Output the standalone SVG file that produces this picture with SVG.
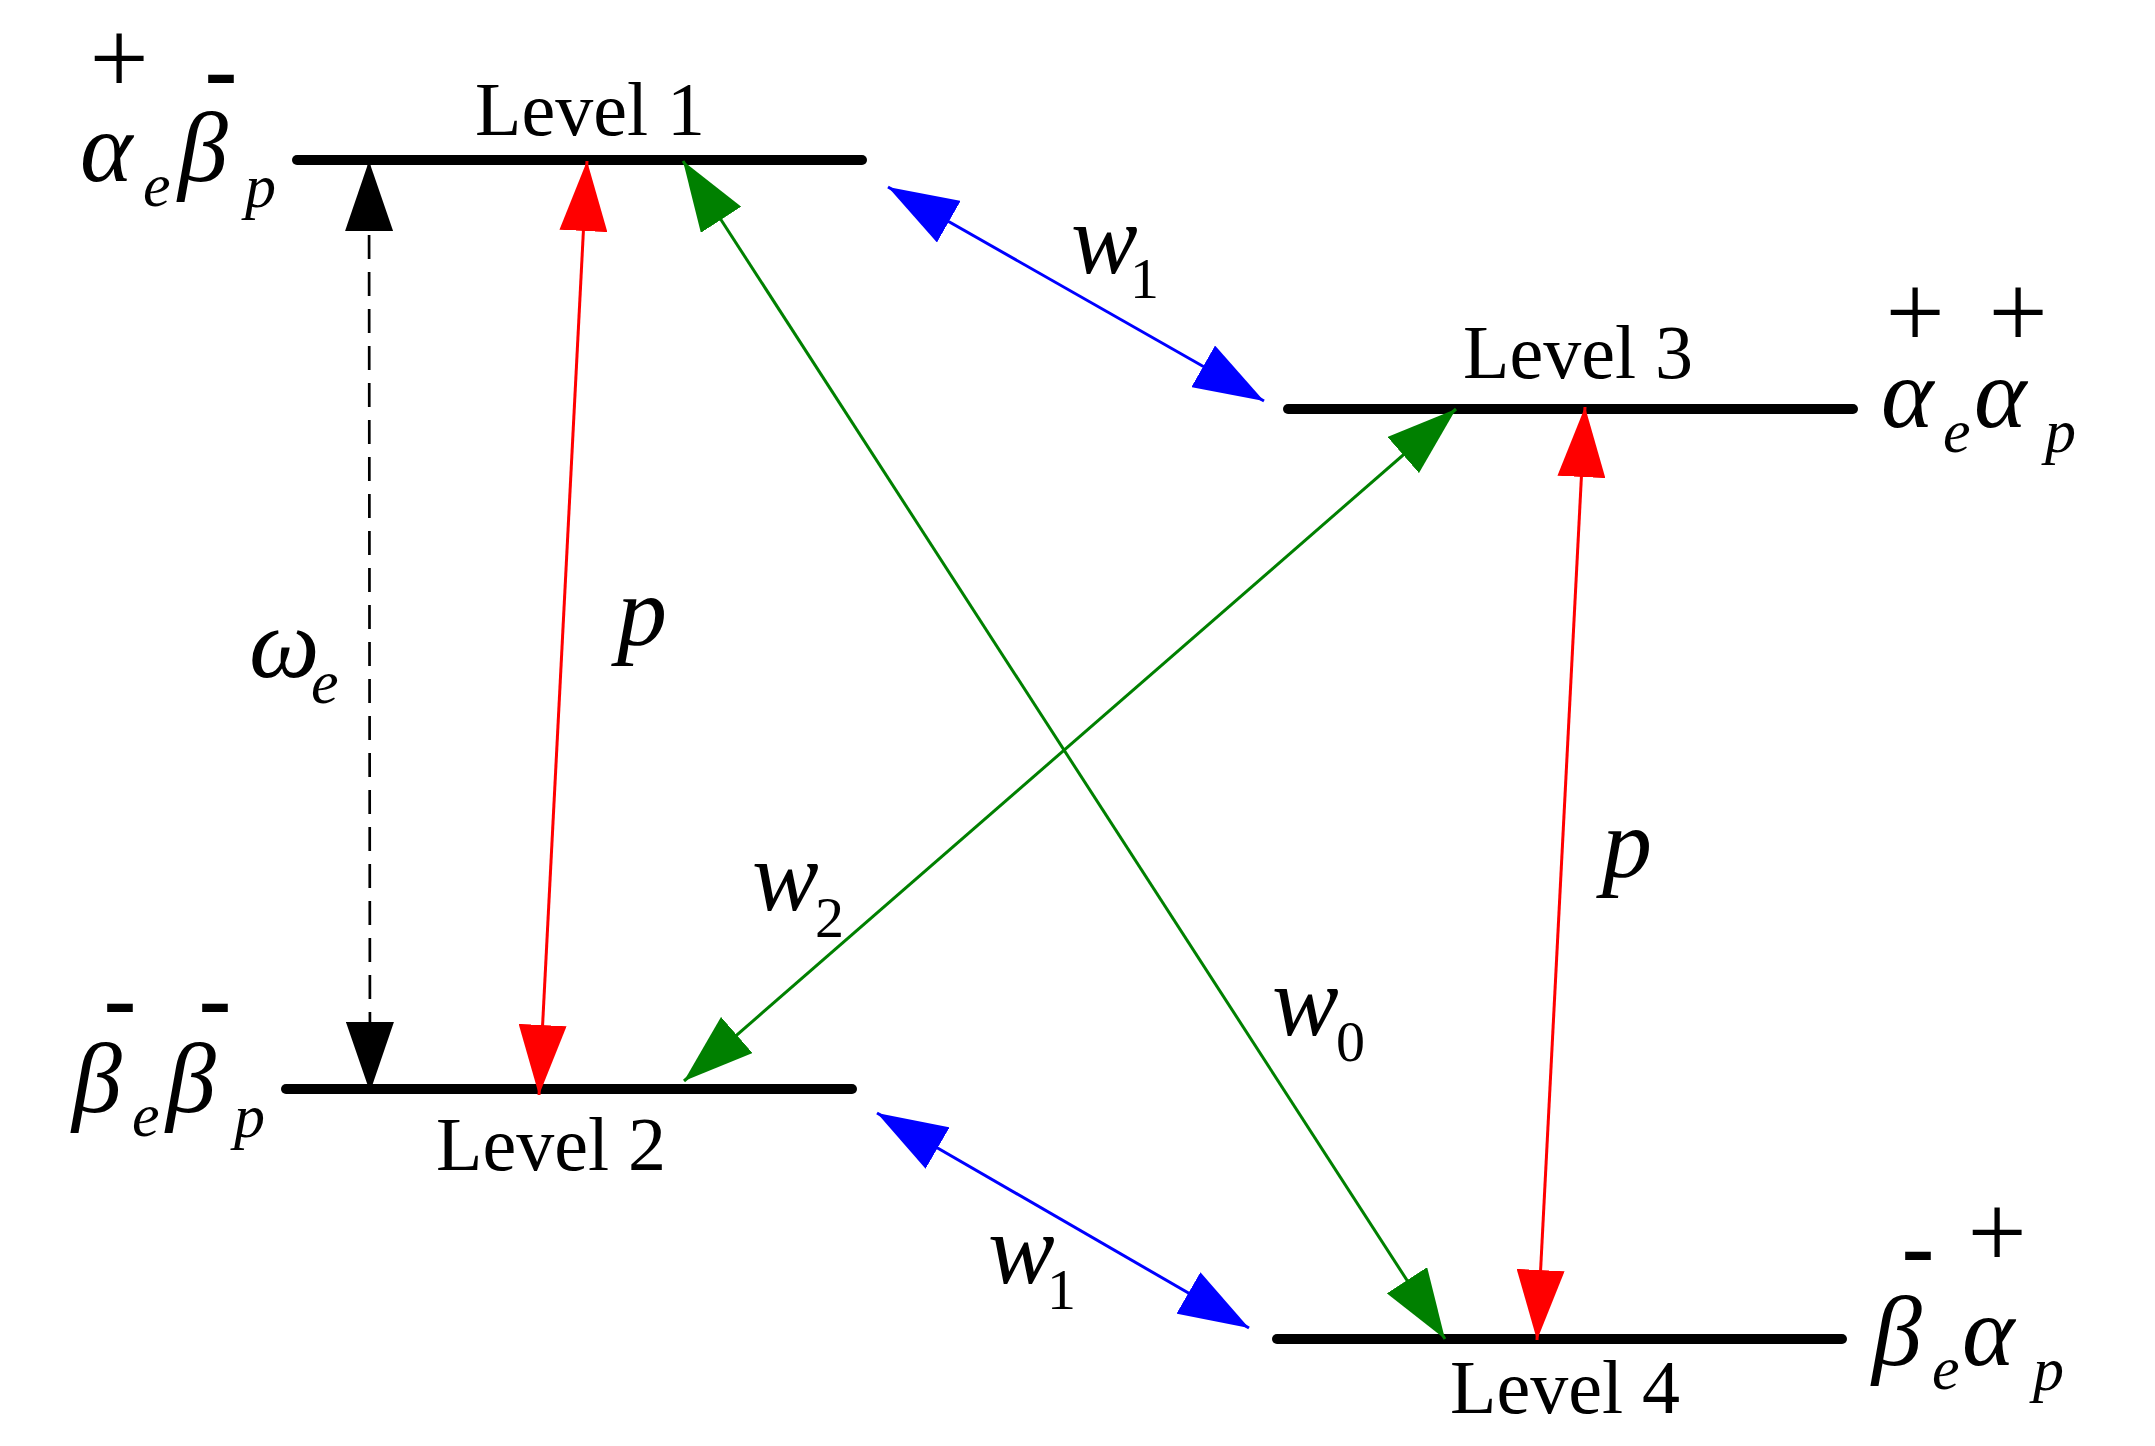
<svg xmlns="http://www.w3.org/2000/svg" width="2155" height="1446" viewBox="0 0 2155 1446">
<defs>
<style>
.lvl{stroke:#000;stroke-width:10;stroke-linecap:round;fill:none}
.it{font-family:"Liberation Serif","Times New Roman",serif;font-style:italic;fill:#000}
.rm{font-family:"Liberation Serif","Times New Roman",serif;font-style:normal;fill:#000}
.big{font-size:100px}
.sub{font-size:62px}
.dig{font-size:58px;font-style:normal}
.lab{font-size:76px}
.pl{font-size:105px;text-anchor:middle;font-style:normal}
.mi{font-family:"Liberation Sans",Arial,sans-serif;font-size:105px;text-anchor:middle;font-style:normal}
.red{stroke:#f00;stroke-width:3;fill:none;marker-start:url(#mr);marker-end:url(#mr)}
.grn{stroke:#008000;stroke-width:3;fill:none;marker-start:url(#mg);marker-end:url(#mg)}
.blu{stroke:#00f;stroke-width:3;fill:none;marker-start:url(#mb);marker-end:url(#mb)}
.blk{stroke:#000;stroke-width:2.7;fill:none;stroke-dasharray:24 13;marker-start:url(#mk);marker-end:url(#mk)}
</style>
<marker id="mr" viewBox="0 0 70 48" refX="70" refY="24" markerWidth="70" markerHeight="48" markerUnits="userSpaceOnUse" orient="auto-start-reverse"><path d="M0,0 L70,24 L0,48 z" fill="#f00"/></marker>
<marker id="mg" viewBox="0 0 70 48" refX="70" refY="24" markerWidth="70" markerHeight="48" markerUnits="userSpaceOnUse" orient="auto-start-reverse"><path d="M0,0 L70,24 L0,48 z" fill="#008000"/></marker>
<marker id="mb" viewBox="0 0 70 48" refX="70" refY="24" markerWidth="70" markerHeight="48" markerUnits="userSpaceOnUse" orient="auto-start-reverse"><path d="M0,0 L70,24 L0,48 z" fill="#00f"/></marker>
<marker id="mk" viewBox="0 0 70 48" refX="70" refY="24" markerWidth="70" markerHeight="48" markerUnits="userSpaceOnUse" orient="auto-start-reverse"><path d="M0,0 L70,24 L0,48 z" fill="#000"/></marker>
</defs>
<rect width="2155" height="1446" fill="#fff"/>

<g id="level1">
<line class="lvl" x1="297" y1="160" x2="862" y2="160"/>
<text class="rm lab" x="475" y="135">Level 1</text>
<text class="it big"><tspan class="pl" x="119" y="94">+</tspan><tspan class="mi" x="221" y="107">-</tspan><tspan x="80" y="181">α</tspan><tspan class="sub" x="143" y="206">e</tspan><tspan x="178" y="181">β</tspan><tspan class="sub" x="245" y="207">p</tspan></text>
</g>

<g id="level2">
<line class="lvl" x1="286" y1="1089" x2="852" y2="1089"/>
<text class="rm lab" x="436" y="1170">Level 2</text>
<text class="it big"><tspan class="mi" x="120" y="1036">-</tspan><tspan class="mi" x="215" y="1036">-</tspan><tspan x="72" y="1112">β</tspan><tspan class="sub" x="132" y="1136">e</tspan><tspan x="166" y="1112">β</tspan><tspan class="sub" x="234" y="1137">p</tspan></text>
</g>

<g id="level3">
<line class="lvl" x1="1288" y1="409" x2="1853" y2="409"/>
<text class="rm lab" x="1463" y="378">Level 3</text>
<text class="it big"><tspan class="pl" x="1915" y="348">+</tspan><tspan class="pl" x="2018" y="348">+</tspan><tspan x="1881" y="427">α</tspan><tspan class="sub" x="1943" y="452">e</tspan><tspan x="1974" y="427">α</tspan><tspan class="sub" x="2045" y="452">p</tspan></text>
</g>

<g id="level4">
<line class="lvl" x1="1277" y1="1339" x2="1842" y2="1339"/>
<text class="rm lab" x="1450" y="1413">Level 4</text>
<text class="it big"><tspan class="mi" x="1918" y="1284">-</tspan><tspan class="pl" x="1997" y="1268">+</tspan><tspan x="1872" y="1365">β</tspan><tspan class="sub" x="1932" y="1389">e</tspan><tspan x="1962" y="1365">α</tspan><tspan class="sub" x="2033" y="1390">p</tspan></text>
</g>

<g id="connectors">
<line class="blk" x1="369" y1="161" x2="370" y2="1092"/>
<line class="red" x1="587" y1="161" x2="539" y2="1095"/>
<line class="red" x1="1585" y1="407" x2="1537" y2="1340"/>
<line class="grn" x1="683" y1="161" x2="1445" y2="1339"/>
<line class="grn" x1="1456" y1="409" x2="684" y2="1081"/>
<line class="blu" x1="888" y1="187" x2="1264" y2="401"/>
<line class="blu" x1="877" y1="1113" x2="1249" y2="1328"/>
</g>

<g id="connector-labels">
<text class="it big"><tspan x="249" y="677">ω</tspan><tspan class="sub" x="311" y="703">e</tspan></text>
<text class="it big" x="617" y="645">p</text>
<text class="it big" x="1602" y="877">p</text>
<text class="it big"><tspan x="1071" y="273">w</tspan><tspan class="dig" x="1130" y="298">1</tspan></text>
<text class="it big"><tspan x="752" y="910">w</tspan><tspan class="dig" x="815" y="937">2</tspan></text>
<text class="it big"><tspan x="1272" y="1035">w</tspan><tspan class="dig" x="1336" y="1061">0</tspan></text>
<text class="it big"><tspan x="988" y="1283">w</tspan><tspan class="dig" x="1047" y="1309">1</tspan></text>
</g>
</svg>
